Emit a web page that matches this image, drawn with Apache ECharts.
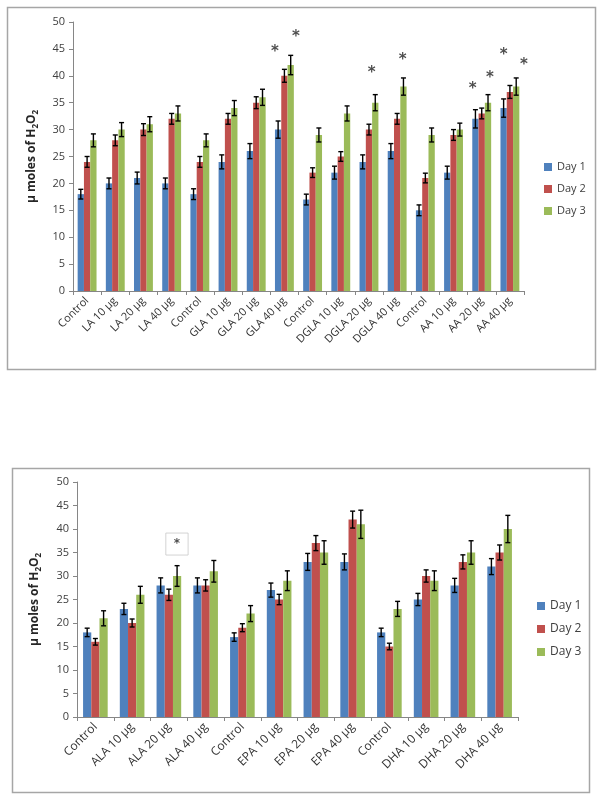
<!DOCTYPE html>
<html>
<head>
<meta charset="utf-8">
<script src="https://cdn.jsdelivr.net/npm/echarts@6/dist/echarts.min.js"></script>
<style>html,body{margin:0;padding:0;background:#fff;}#c{width:600px;height:801px;}</style>
</head>
<body>
<div id="c"></div>
<script>
// ---------- Top chart data ----------
var topCategories = ['Control','LA 10 μg','LA 20 μg','LA 40 μg','Control','GLA 10 μg','GLA 20 μg','GLA 40 μg','Control','DGLA 10 μg','DGLA 20 μg','DGLA 40 μg','Control','AA 10 μg','AA 20 μg','AA 40 μg'];
var topDay1 = [18,20,21,20,18,24,26,30,17,22,24,26,15,22,32,34];
var topDay2 = [24,28,30,32,24,32,35,40,22,25,30,32,21,29,33,37];
var topDay3 = [28,30,31,33,28,34,36,42,29,33,35,38,29,30,35,38];
var topErr1 = [0.9,1.0,1.1,1.0,1.0,1.3,1.4,1.6,1.0,1.2,1.3,1.4,1.0,1.2,1.7,1.7];
var topErr2 = [1.0,1.0,1.1,1.0,1.0,1.0,1.1,1.2,0.9,0.9,1.0,1.0,0.9,1.0,1.0,1.2];
var topErr3 = [1.2,1.3,1.4,1.4,1.2,1.4,1.5,1.8,1.3,1.4,1.5,1.6,1.3,1.2,1.5,1.6];
// asterisks: [position along category axis (0..16), value]
var topStars = [[7.16,44.4],[7.91,47.2],[10.6,40.5],[11.7,42.9],[14.18,37.5],[14.79,39.6],[15.28,43.8],[16.0,42.0]];

// ---------- Bottom chart data ----------
var botCategories = ['Control','ALA 10 μg','ALA 20 μg','ALA 40 μg','Control','EPA 10 μg','EPA 20 μg','EPA 40 μg','Control','DHA 10 μg','DHA 20 μg','DHA 40 μg'];
var botDay1 = [18,23,28,28,17,27,33,33,18,25,28,32];
var botDay2 = [16,20,26,28,19,25,37,42,15,30,33,35];
var botDay3 = [21,26,30,31,22,29,35,41,23,29,35,40];
var botErr1 = [0.9,1.2,1.6,1.6,0.9,1.5,1.8,1.7,0.9,1.3,1.5,1.7];
var botErr2 = [0.7,0.85,1.2,1.2,0.85,1.1,1.6,1.8,0.7,1.3,1.5,1.6];
var botErr3 = [1.6,1.8,2.2,2.3,1.7,2.1,2.5,3.0,1.6,2.1,2.5,2.9];
var botStars = [[2.72,36.8]];

var dayNames = ['Day 1','Day 2','Day 3'];
var colors = ['#4F81BD','#C0504D','#9BBB59'];
var GAP = 0.33;
var FONT = 'Open Sans';

function errRender(k){
  return function(params, api){
    var x = api.value(0), v = api.value(1), e = api.value(2);
    var c = api.coord([x, v]);
    var band = api.size([1,0])[0];
    var bw = band*(1-GAP)/3;
    var cx = c[0] + (k-1)*bw;
    var top = api.coord([x, v+e])[1], bot = api.coord([x, v-e])[1];
    var hw = 2.5;
    var st = {stroke:'#000', lineWidth:1.4};
    return {type:'group', children:[
      {type:'line', shape:{x1:cx,y1:top,x2:cx,y2:bot}, style:st},
      {type:'line', shape:{x1:cx-hw,y1:top,x2:cx+hw,y2:top}, style:st},
      {type:'line', shape:{x1:cx-hw,y1:bot,x2:cx+hw,y2:bot}, style:st}
    ]};
  };
}

function buildSeries(xi, xvi, yi, vals, errs, stars, boxed){
  var s = [];
  for (var k=0;k<3;k++){
    s.push({type:'bar', name:dayNames[k], xAxisIndex:xi, yAxisIndex:yi, data:vals[k],
      barGap:'0%', barCategoryGap:(GAP*100)+'%', itemStyle:{color:colors[k]}, z:2});
  }
  for (var k2=0;k2<3;k2++){
    var d = vals[k2].map(function(v,i){return [i, v, errs[k2][i]];});
    s.push({type:'custom', xAxisIndex:xi, yAxisIndex:yi, renderItem:errRender(k2), data:d, z:5, silent:true,
      encode:{x:0,y:1}});
  }
  var lab = boxed ?
    {show:true, position:'inside', formatter:'*', fontSize:12, color:'#222', fontFamily:'DejaVu Sans', fontWeight:'bold',
     borderColor:'#C8C8C8', borderWidth:1, padding:[5,8,5,8], lineHeight:12} :
    {show:true, position:'inside', formatter:'*', fontSize:15, color:'#222', fontFamily:'DejaVu Sans', fontWeight:'bold'};
  s.push({type:'scatter', xAxisIndex:xvi, yAxisIndex:yi, symbolSize:0, data:stars, label:lab, z:6, silent:true});
  return s;
}

var axisLineStyle = {lineStyle:{color:'#868686', width:1}};
function catAxis(gi, cats, fs){
  return {type:'category', gridIndex:gi, data:cats, boundaryGap:true,
    axisLine:axisLineStyle, axisTick:{show:true, length:4, lineStyle:{color:'#868686'}},
    axisLabel:{rotate:45, fontSize:fs, color:'#333', fontFamily:FONT, margin:8, interval:0}};
}
function hiddenVal(gi, n){
  return {type:'value', gridIndex:gi, min:0, max:n, show:false};
}
function yAx(gi, fs, gap){
  return {type:'value', gridIndex:gi, min:0, max:50, interval:5,
    axisLine:{show:true, lineStyle:{color:'#868686'}}, axisTick:{show:true, length:4, lineStyle:{color:'#868686'}},
    splitLine:{show:false},
    axisLabel:{fontSize:fs, color:'#404040', fontFamily:FONT, margin:8},
    name:'{a|μ moles of H}{s|2}{a|O}{s|2}', nameLocation:'middle', nameGap:gap,
    nameTextStyle:{rich:{
      a:{fontSize:12, fontWeight:'bold', color:'#262626', fontFamily:FONT, lineHeight:16, verticalAlign:'middle'},
      s:{fontSize:8, fontWeight:'bold', color:'#262626', fontFamily:FONT, lineHeight:8, verticalAlign:'bottom'}
    }}};
}

var series = [].concat(
  buildSeries(0, 1, 0, [topDay1, topDay2, topDay3], [topErr1, topErr2, topErr3], topStars, false),
  buildSeries(2, 3, 1, [botDay1, botDay2, botDay3], [botErr1, botErr2, botErr3], botStars, true)
);

var option = {
  animation:false,
  backgroundColor:'#fff',
  grid:[
    {left:73, top:22, width:451, height:269},
    {left:77, top:482, width:441, height:235}
  ],
  xAxis:[catAxis(0, topCategories, 11), hiddenVal(0, topCategories.length), catAxis(1, botCategories, 12), hiddenVal(1, botCategories.length)],
  yAxis:[yAx(0, 11, 33), yAx(1, 11, 34)],
  legend:[
    {data:dayNames, orient:'vertical', left:544, top:160, padding:0, itemWidth:8, itemHeight:8, itemGap:8, icon:'rect',
     textStyle:{fontSize:11, color:'#404040', fontFamily:FONT, lineHeight:14}, selectedMode:false},
    {data:dayNames, orient:'vertical', left:537, top:599, padding:0, itemWidth:8, itemHeight:8, itemGap:9, icon:'rect',
     textStyle:{fontSize:12, color:'#404040', fontFamily:FONT, lineHeight:14}, selectedMode:false}
  ],
  graphic:[
    {type:'rect', shape:{x:7.5, y:7.5, width:588, height:362}, style:{fill:'none', stroke:'#A6A6A6', lineWidth:1.5}, silent:true},
    {type:'rect', shape:{x:12.5, y:468.5, width:577, height:324}, style:{fill:'none', stroke:'#A6A6A6', lineWidth:1.5}, silent:true}
  ],
  series:series
};
var chart = echarts.init(document.getElementById('c'), null, {renderer:'canvas'});
chart.setOption(option);
</script>
</body>
</html>
